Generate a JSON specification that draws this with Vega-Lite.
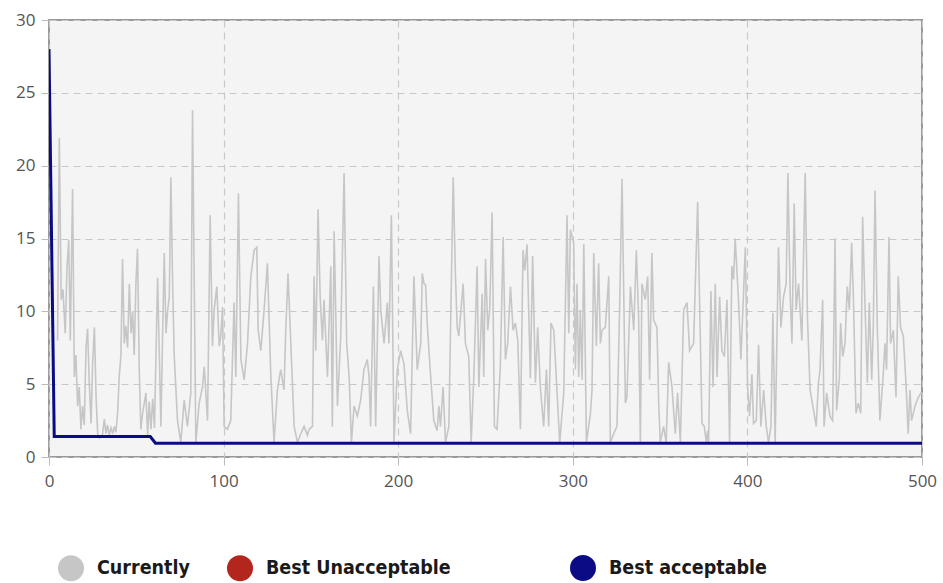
{
  "$schema": "https://vega.github.io/schema/vega-lite/v6.json",
  "width": 873,
  "height": 437,
  "autosize": {"type": "none"},
  "padding": {"left": 49, "top": 20, "right": 21, "bottom": 126},
  "background": "white",
  "datasets": {
    "current": [
      {"iter":4.9,"value":8},{"iter":5.9,"value":21.9},{"iter":7.0,"value":10.8},{"iter":8.0,"value":11.5},{"iter":9.3,"value":8.5},{"iter":10.3,"value":13},{"iter":11.3,"value":14.9},{"iter":12.2,"value":8},{"iter":13.5,"value":18.4},{"iter":14.5,"value":5.5},{"iter":15.4,"value":7},{"iter":16.4,"value":3.5},{"iter":17.3,"value":4.8},{"iter":18.3,"value":1.9},{"iter":19.2,"value":3.5},{"iter":20.2,"value":2.2},{"iter":21.2,"value":7.5},{"iter":22.1,"value":8.8},{"iter":23.1,"value":5},{"iter":24.1,"value":2.3},{"iter":25,"value":6.5},{"iter":26,"value":8.9},{"iter":27,"value":4},{"iter":27.9,"value":1.6},{"iter":29,"value":1.3},{"iter":30.6,"value":1.5},{"iter":31.7,"value":2.6},{"iter":32.6,"value":1.6},{"iter":33.5,"value":2.2},{"iter":34.5,"value":1.5},{"iter":35.5,"value":2.0},{"iter":36.5,"value":1.6},{"iter":37.4,"value":2.1},{"iter":38.3,"value":1.7},{"iter":39.3,"value":3},{"iter":40.2,"value":5.5},{"iter":41.2,"value":7},{"iter":42.1,"value":13.6},{"iter":43.1,"value":7.8},{"iter":44,"value":9},{"iter":45,"value":7.5},{"iter":46,"value":11.9},{"iter":47,"value":8.5},{"iter":47.9,"value":10},{"iter":48.8,"value":7},{"iter":49.8,"value":12},{"iter":50.7,"value":14.3},{"iter":51.7,"value":6},{"iter":52.6,"value":1.9},{"iter":53.6,"value":3},{"iter":55.5,"value":4.4},{"iter":56.5,"value":1.5},{"iter":57.4,"value":3.8},{"iter":58.4,"value":1.9},{"iter":59.4,"value":4},{"iter":60.4,"value":2},{"iter":62.2,"value":12.3},{"iter":63.2,"value":7},{"iter":64.1,"value":2.1},{"iter":65,"value":8},{"iter":66,"value":14},{"iter":67,"value":8.5},{"iter":67.9,"value":10},{"iter":68.9,"value":11},{"iter":69.8,"value":19.2},{"iter":70.8,"value":12},{"iter":71.7,"value":7},
      {"iter":73.6,"value":2.5},{"iter":75.5,"value":1.0},{"iter":77.4,"value":3.9},{"iter":79.3,"value":2.1},{"iter":81.2,"value":4.4},{"iter":82.2,"value":23.8},{"iter":84.1,"value":1.0},{"iter":86,"value":3.7},{"iter":87.9,"value":4.8},{"iter":88.9,"value":6.2},{"iter":90.8,"value":2.5},{"iter":92.3,"value":16.6},{"iter":93.6,"value":7.6},{"iter":94.6,"value":10.1},{"iter":96.1,"value":11.7},{"iter":97.5,"value":7.6},{"iter":98.4,"value":8.3},{"iter":99.4,"value":10.3},{"iter":100.3,"value":2.1},{"iter":102.2,"value":1.9},{"iter":104.1,"value":2.5},{"iter":106,"value":10.6},{"iter":107,"value":5.5},{"iter":108.5,"value":18.1},{"iter":109.9,"value":6.7},{"iter":111.8,"value":5.3},{"iter":113.7,"value":7.8},{"iter":115.6,"value":12.4},{"iter":117.5,"value":14.2},{"iter":119,"value":14.4},{"iter":119.8,"value":8.7},{"iter":121.3,"value":7.3},{"iter":123.2,"value":10.1},{"iter":125.1,"value":13.3},{"iter":127,"value":5.7},{"iter":128.9,"value":1.0},{"iter":130.8,"value":4.6},{"iter":132.7,"value":6.0},{"iter":134.6,"value":4.6},{"iter":135.6,"value":8.7},{"iter":136.9,"value":12.6},{"iter":138.5,"value":7.8},{"iter":140.4,"value":2.1},{"iter":142.3,"value":1.0},{"iter":144.2,"value":1.6},{"iter":146.1,"value":2.1},{"iter":148,"value":1.5},
      {"iter":149,"value":1.9},{"iter":150.9,"value":2.1},{"iter":151.8,"value":12.4},{"iter":152.8,"value":7.3},{"iter":154.1,"value":17.0},{"iter":155.3,"value":11.0},{"iter":156.6,"value":8.0},{"iter":157.5,"value":10.8},{"iter":159.5,"value":5.5},{"iter":161.4,"value":13.1},{"iter":162.3,"value":2.1},{"iter":163.3,"value":15.5},{"iter":164.2,"value":10.1},{"iter":165.2,"value":3.5},{"iter":167.1,"value":8.3},{"iter":169,"value":19.5},{"iter":170.5,"value":7.8},{"iter":171.9,"value":5.5},{"iter":173.2,"value":1.0},{"iter":174.7,"value":3.5},{"iter":176.6,"value":2.8},{"iter":178.5,"value":3.9},{"iter":180.4,"value":6.0},{"iter":182.3,"value":6.7},{"iter":183.3,"value":5.5},{"iter":184.2,"value":2.1},{"iter":185.8,"value":11.7},{"iter":187.1,"value":2.1},{"iter":189,"value":13.8},{"iter":190,"value":10.1},{"iter":191.9,"value":7.8},{"iter":193.8,"value":10.6},{"iter":194.7,"value":7.8},{"iter":196.1,"value":16.6},{"iter":197.6,"value":1.0},{"iter":199.5,"value":6.0},{"iter":201.4,"value":7.3},{"iter":203.3,"value":6.4},{"iter":205.2,"value":3.2},{"iter":207.1,"value":1.6},{"iter":209,"value":12.4},{"iter":210.9,"value":6.0},{"iter":212.9,"value":7.8},{"iter":213.8,"value":12.6},{"iter":214.8,"value":11.9},{"iter":215.7,"value":11.8},{"iter":216.7,"value":9.0},{"iter":218.6,"value":5.5},
      {"iter":220.4,"value":2.5},{"iter":222.3,"value":1.8},{"iter":223.3,"value":3.5},{"iter":224.2,"value":2.1},{"iter":225.7,"value":4.8},{"iter":227.1,"value":1.0},{"iter":229,"value":2.1},{"iter":231.5,"value":19.2},{"iter":232.8,"value":12.4},{"iter":233.8,"value":8.9},{"iter":234.7,"value":8.3},{"iter":237.2,"value":11.9},{"iter":238.5,"value":7.8},{"iter":240.4,"value":6.9},{"iter":241.8,"value":1.0},{"iter":243.3,"value":5.5},{"iter":245.2,"value":13.1},{"iter":246.2,"value":4.8},{"iter":248.1,"value":11.2},{"iter":249,"value":5.5},{"iter":250,"value":13.6},{"iter":251.3,"value":8.7},{"iter":252.4,"value":10.1},{"iter":253.8,"value":16.8},{"iter":255.1,"value":2.1},{"iter":256.6,"value":1.9},{"iter":258.5,"value":6.2},{"iter":260.1,"value":15.1},{"iter":261.4,"value":6.7},{"iter":262.7,"value":7.8},{"iter":264.3,"value":11.7},{"iter":265.8,"value":8.7},{"iter":267.1,"value":9.2},{"iter":268.5,"value":8.0},{"iter":270,"value":1.9},{"iter":271.5,"value":14.2},{"iter":272.5,"value":12.8},{"iter":273.8,"value":14.6},{"iter":275.7,"value":5.4},{"iter":277,"value":13.8},{"iter":278.6,"value":5.1},{"iter":279.9,"value":8.9},{"iter":281.4,"value":4.8},{"iter":283.3,"value":2.1},{"iter":284.9,"value":6.0},{"iter":286.2,"value":2.1},{"iter":287.5,"value":9.2},{"iter":289.1,"value":8.7},{"iter":291,"value":4.4},{"iter":292.5,"value":1.0},{"iter":294.8,"value":4.4},{"iter":296.7,"value":16.6},
      {"iter":297.7,"value":8.5},{"iter":298.6,"value":15.6},{"iter":300.5,"value":14.7},{"iter":301.5,"value":6.0},{"iter":302.4,"value":11.9},{"iter":303.4,"value":5.5},{"iter":304.3,"value":10.1},{"iter":305.3,"value":5.3},{"iter":306.3,"value":14.6},{"iter":307.8,"value":1.0},{"iter":310.1,"value":3.0},{"iter":311,"value":4.6},{"iter":312,"value":14.0},{"iter":313.5,"value":7.6},{"iter":314.8,"value":13.3},{"iter":315.8,"value":7.8},{"iter":316.7,"value":8.7},{"iter":318.6,"value":8.9},{"iter":320.6,"value":12.4},{"iter":321.5,"value":1.0},{"iter":323.4,"value":1.6},{"iter":325.3,"value":2.1},{"iter":326.8,"value":10.1},{"iter":328.2,"value":19.1},{"iter":330.1,"value":3.7},{"iter":331,"value":4.1},{"iter":333,"value":11.7},{"iter":334.9,"value":8.7},{"iter":336.4,"value":14.2},{"iter":337.7,"value":9.6},{"iter":338.7,"value":1.0},{"iter":339.6,"value":11.9},{"iter":341.5,"value":10.8},{"iter":342.9,"value":12.4},{"iter":344,"value":5.3},{"iter":345.3,"value":14.0},{"iter":346.3,"value":9.4},{"iter":348.2,"value":8.9},{"iter":349.2,"value":3.7},{"iter":350.1,"value":1.0},{"iter":352,"value":2.1},{"iter":353.5,"value":1.0},{"iter":354.9,"value":6.5},{"iter":356.8,"value":4.8},{"iter":358.7,"value":1.6},{"iter":360,"value":4.4},{"iter":361.6,"value":1.0},{"iter":363.5,"value":10.1},{"iter":365.4,"value":10.6},{"iter":366.9,"value":7.3},{"iter":369.2,"value":7.8},{"iter":371.5,"value":17.5},
      {"iter":374,"value":2.3},{"iter":375.3,"value":2.1},{"iter":376.5,"value":1.0},{"iter":377.2,"value":1.8},{"iter":377.8,"value":1.0},{"iter":379.1,"value":11.4},{"iter":380.3,"value":4.8},{"iter":381.6,"value":11.9},{"iter":382.6,"value":5.5},{"iter":384.1,"value":11.0},{"iter":385.4,"value":7.3},{"iter":386.8,"value":6.9},{"iter":388.3,"value":10.8},{"iter":389.8,"value":1.0},{"iter":391.1,"value":13.1},{"iter":392.1,"value":12.2},{"iter":393,"value":15.0},{"iter":394.9,"value":10.8},{"iter":396.3,"value":6.7},{"iter":397.4,"value":10.1},{"iter":398.8,"value":14.4},{"iter":400.1,"value":4.8},{"iter":401.2,"value":2.8},{"iter":402.6,"value":5.7},{"iter":403.5,"value":2.3},{"iter":405.1,"value":2.5},{"iter":406.4,"value":7.7},{"iter":407.7,"value":2.1},{"iter":409.3,"value":4.6},{"iter":410.8,"value":2.1},{"iter":412.1,"value":1.0},{"iter":413.5,"value":2.1},{"iter":414.6,"value":9.9},{"iter":415.9,"value":1.0},{"iter":417.8,"value":14.4},{"iter":419.2,"value":8.9},{"iter":420.7,"value":11.0},{"iter":422.2,"value":11.9},{"iter":423.2,"value":19.5},{"iter":424.5,"value":11.2},{"iter":425.5,"value":7.8},{"iter":426.8,"value":17.4},{"iter":427.9,"value":10.1},{"iter":429.3,"value":11.9},{"iter":431.2,"value":8.0},{"iter":433.1,"value":19.5},{"iter":434.4,"value":9.6},{"iter":435.9,"value":4.6},{"iter":437.9,"value":3.2},{"iter":439.4,"value":2.1},{"iter":440.7,"value":5.1},
      {"iter":441.6,"value":6.0},{"iter":443.1,"value":10.8},{"iter":443.9,"value":2.1},{"iter":445.4,"value":4.4},{"iter":447.3,"value":2.8},{"iter":448.8,"value":2.5},{"iter":450.2,"value":15.0},{"iter":451.1,"value":3.2},{"iter":452.7,"value":5.5},{"iter":453.4,"value":9.2},{"iter":454.6,"value":6.9},{"iter":455.9,"value":7.8},{"iter":457.2,"value":11.7},{"iter":458.4,"value":10.1},{"iter":459.7,"value":14.7},{"iter":460.7,"value":11.0},{"iter":462.2,"value":3.0},{"iter":463.5,"value":3.7},{"iter":464.9,"value":3.0},{"iter":466,"value":16.5},{"iter":467.3,"value":10.6},{"iter":468.7,"value":5.1},{"iter":469.8,"value":10.6},{"iter":471.2,"value":5.3},{"iter":472.1,"value":8.9},{"iter":473.1,"value":18.3},{"iter":474.4,"value":8.9},{"iter":475.9,"value":2.5},{"iter":477.8,"value":5.7},{"iter":478.8,"value":7.8},{"iter":479.7,"value":6.0},{"iter":481.1,"value":15.1},{"iter":482,"value":7.8},{"iter":483.6,"value":8.7},{"iter":485.1,"value":4.1},{"iter":486.4,"value":12.4},{"iter":487.7,"value":8.9},{"iter":489.3,"value":8.3},{"iter":490.8,"value":5.1},{"iter":492.1,"value":1.6},{"iter":493.1,"value":4.6},{"iter":494,"value":2.5},{"iter":496,"value":3.5},{"iter":497.9,"value":4.1},{"iter":499.4,"value":4.4},{"iter":500,"value":4.3}
    ],
    "best": [
      {"iter":0,"value":28},{"iter":3,"value":1.4},{"iter":58,"value":1.4},{"iter":61,"value":0.95},{"iter":500,"value":0.95}
    ]
  },
  "layer": [
    {
      "data": {"name": "current"},
      "mark": {"type": "line", "strokeWidth": 1.6, "clip": true},
      "encoding": {
        "x": {"field": "iter", "type": "quantitative", "scale": {"domain": [0, 500], "nice": false},
              "axis": {"values": [0,100,200,300,400,500], "title": null, "labelFlush": false}},
        "y": {"field": "value", "type": "quantitative", "scale": {"domain": [0, 30], "nice": false},
              "axis": {"values": [0,5,10,15,20,25,30], "title": null, "labelFlush": false}},
        "color": {"datum": "Currently",
          "scale": {"domain": ["Currently", "Best Unacceptable"], "range": ["#c6c6c6", "#b3261e"]},
          "legend": {"orient": "none", "legendX": 9, "legendY": 535, "direction": "horizontal", "columnPadding": 17}}
      }
    },
    {
      "data": {"name": "best"},
      "mark": {"type": "line", "strokeWidth": 3, "clip": true},
      "encoding": {
        "x": {"field": "iter", "type": "quantitative"},
        "y": {"field": "value", "type": "quantitative"},
        "color": {"datum": "Best acceptable",
          "scale": {"domain": ["Best acceptable"], "range": ["#0b0b86"]},
          "legend": {"orient": "none", "legendX": 521, "legendY": 535, "direction": "horizontal"}}
      }
    }
  ],
  "resolve": {"scale": {"color": "independent"}},
  "config": {
    "view": {"fill": "#f4f4f4", "stroke": "#999999", "strokeWidth": 2},
    "axis": {
      "domain": false,
      "grid": true,
      "gridColor": "#c8c8c8",
      "gridDash": [7, 5],
      "gridWidth": 1.2,
      "tickColor": "#bbbbbb",
      "tickSize": 8,
      "labelFont": "Open Sans",
      "labelFontSize": 17,
      "labelColor": "#555555",
      "labelPadding": 6
    },
    "axisX": {"labelPadding": 8},
    "legend": {
      "title": null,
      "padding": 0,
      "symbolType": "circle",
      "symbolSize": 169,
      "symbolStrokeWidth": 13,
      "symbolOpacity": 1,
      "labelFont": "DejaVu Sans Condensed, Liberation Sans Narrow, sans-serif",
      "labelFontSize": 19.5,
      "labelFontWeight": "bold",
      "labelColor": "#1a1a1a",
      "labelOffset": 13,
      "labelLimit": 400
    }
  }
}
